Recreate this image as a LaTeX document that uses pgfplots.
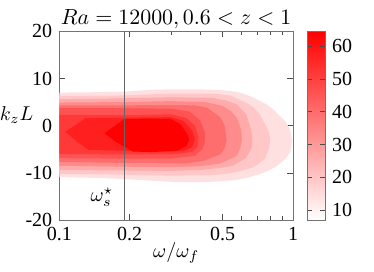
\documentclass[border=0pt]{standalone}
\usepackage[no-math]{fontspec}
\setmainfont{Liberation Serif}
\usepackage{pgfplots}
\pgfplotsset{compat=1.18}
\begin{document}
\begin{tikzpicture}
\begin{axis}[
  name=ax,
  scale only axis,
  width=116.85pt, height=94.35pt,
  xmode=log,
  xmin=0.1, xmax=1, ymin=-20, ymax=20,
  xtick={0.1,0.2,0.5,1}, xticklabels={0.1,0.2,0.5,1},
  minor xtick={0.3,0.4,0.6,0.7,0.8,0.9},
  ytick={-20,-10,0,10,20},
  /pgf/number format/assume math mode=true,
  axis line style={black!55},
  major tick length=3pt, minor tick length=1.8pt,
  tick style={black!70},
  title={$Ra = 12000, 0.6 < z < 1$},
  title style={yshift=-8.5pt, font=\fontsize{11}{13}\selectfont},
  xlabel={$\omega/\omega_f$},
  xlabel style={yshift=6pt, font=\normalsize},
  ylabel={$k_zL$},
  ylabel style={at={(axis description cs:-0.183,0.556)}, rotate=-90, anchor=center},
  colormap={wr}{rgb255=(255,255,255) rgb255=(255,0,0)},
  point meta min=7, point meta max=64.5,
  colorbar,
  colorbar style={
    width=9pt,
    at={(parent axis.north east)}, anchor=north west, xshift=-1.5pt,
    ytick={10,20,30,40,50,60},
    axis line style={black!55},
    major tick length=2.5pt,
    /pgf/number format/assume math mode=true,
  },
]
% L1
\addplot[fill=red!12, draw=none] coordinates {
(0.1,7.0) (0.15,7.1) (0.19,7.2) (0.25,7.6) (0.3,7.7) (0.4,7.7) (0.5,7.5) (0.57,7.2) (0.63,6.6) (0.7,5.6) (0.77,4.5) (0.83,3.3) (0.88,2.0) (0.93,0.8) (0.97,-0.7) (0.99,-3.2) (0.975,-5.5) (0.93,-7.0) (0.85,-8.6) (0.78,-9.6) (0.72,-10.3) (0.64,-11.0) (0.575,-11.5) (0.5,-11.8) (0.4,-12.0) (0.3,-11.9) (0.2,-11.4) (0.15,-11.1) (0.1,-10.9)} --cycle;
% L2
\addplot[fill=red!22, draw=none] coordinates {
(0.1,6.3) (0.19,6.4) (0.3,6.8) (0.45,6.8) (0.54,6.4) (0.63,4.9) (0.68,3.8) (0.72,2.4) (0.76,0.3) (0.79,-1.5) (0.80,-3.0) (0.79,-4.8) (0.76,-7.0) (0.71,-8.2) (0.67,-8.9) (0.6,-9.6) (0.54,-10.1) (0.45,-10.5) (0.3,-10.6) (0.19,-10.4) (0.1,-10.2)} --cycle;
% L3
\addplot[fill=red!33, draw=none] coordinates {
(0.1,5.6) (0.19,5.8) (0.3,6.0) (0.45,5.9) (0.52,5.3) (0.575,4.5) (0.63,2.4) (0.65,0.5) (0.665,-1.5) (0.67,-3.0) (0.665,-4.8) (0.63,-6.8) (0.555,-8.5) (0.5,-8.9) (0.4,-9.4) (0.3,-9.6) (0.19,-9.5) (0.1,-9.4)} --cycle;
% L4
\addplot[fill=red!45, draw=none] coordinates {
(0.1,4.9) (0.19,5.0) (0.3,5.2) (0.42,5.0) (0.5,4.2) (0.545,3.0) (0.575,1.7) (0.6,-0.8) (0.605,-3.0) (0.595,-4.8) (0.575,-6.4) (0.49,-8.0) (0.4,-8.6) (0.3,-8.8) (0.19,-8.7) (0.1,-8.5)} --cycle;
% L5
\addplot[fill=red!57, draw=none] coordinates {
(0.1,4.3) (0.19,4.3) (0.3,4.4) (0.38,4.3) (0.43,3.8) (0.49,1.7) (0.51,0) (0.52,-3.0) (0.51,-4.8) (0.49,-6.1) (0.41,-7.5) (0.35,-8.0) (0.3,-8.0) (0.19,-7.9) (0.1,-7.7)} --cycle;
% L6
\addplot[fill=red!68, draw=none] coordinates {
(0.1,3.7) (0.19,3.7) (0.3,3.6) (0.36,3.0) (0.40,1.2) (0.42,-1.5) (0.42,-3.5) (0.41,-5.0) (0.38,-6.4) (0.3,-7.0) (0.19,-7.0) (0.1,-6.9)} --cycle;
% L7
\addplot[fill=red!78, draw=none] coordinates {
(0.1,2.3) (0.19,2.2) (0.3,2.4) (0.35,1.6) (0.38,0) (0.395,-2.5) (0.39,-4.5) (0.37,-5.6) (0.3,-6.1) (0.19,-6.1) (0.1,-6.0)} --cycle;
% L8
\addplot[fill=red!88, draw=none] coordinates {
(0.106,-1.3) (0.13,1.6) (0.19,1.7) (0.3,1.8) (0.34,1.0) (0.37,-1.0) (0.38,-2.8) (0.37,-4.6) (0.34,-5.4) (0.25,-5.5) (0.133,-5.1) (0.12,-3.5)} --cycle;
% L9 core
\addplot[fill=red, draw=none] coordinates {
(0.156,-1.6) (0.19,1.4) (0.25,1.5) (0.3,1.4) (0.33,0.3) (0.355,-2.0) (0.36,-3.0) (0.35,-4.3) (0.32,-5.3) (0.25,-5.6) (0.207,-5.5) (0.175,-3.5)} --cycle;
% omega_s line
\addplot[black!60, line width=0.5pt] coordinates {(0.19,-20) (0.19,20)};
\node[inner sep=0pt] at (axis cs:0.152,-15.1) {$\omega_s^\star$};
\end{axis}
\pgfresetboundingbox
\path (ax.south west) ++(-29.65pt,-26pt) rectangle ++(187pt,136pt);
\end{tikzpicture}
\end{document}
